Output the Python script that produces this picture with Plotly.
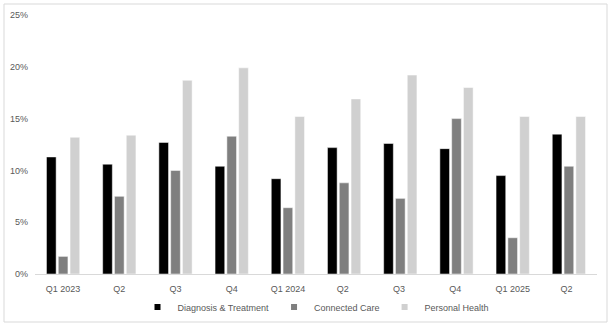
import plotly.graph_objects as go

categories = ["Q1 2023", "Q2", "Q3", "Q4", "Q1 2024", "Q2 ", "Q3 ", "Q4 ", "Q1 2025", "Q2  "]
diag_treat = [11.3, 10.6, 12.7, 10.4, 9.2, 12.2, 12.6, 12.1, 9.5, 13.5]
connected_care = [1.7, 7.5, 10.0, 13.3, 6.4, 8.8, 7.3, 15.0, 3.5, 10.4]
personal_health = [13.2, 13.4, 18.7, 19.9, 15.2, 16.9, 19.2, 18.0, 15.2, 15.2]

series = [
    ("Diagnosis & Treatment", diag_treat, "#000000"),
    ("Connected Care", connected_care, "#7f7f7f"),
    ("Personal Health", personal_health, "#d0d0d0"),
]

fig = go.Figure()
for name, vals, col in series:
    fig.add_trace(go.Bar(
        x=categories, y=vals, name=name, showlegend=False, legendgroup=name,
        marker=dict(color=col, line=dict(color="#ffffff", width=0.5)),
    ))
for name, vals, col in series:
    fig.add_trace(go.Scatter(
        x=[None], y=[None], name=name, mode="markers", legendgroup=name,
        marker=dict(symbol="square", size=6, color=col),
    ))

W, H = 612, 327
ml, mr, mt, mb = 35, 15, 15, 53
pw, ph = W - ml - mr, H - mt - mb

def px(x):
    return (x - ml) / pw

def py(y):
    return (H - mb - y) / ph

fig.update_layout(
    width=W, height=H,
    margin=dict(l=ml, r=mr, t=mt, b=mb, autoexpand=False),
    paper_bgcolor="white", plot_bgcolor="white",
    barmode="group", bargap=0.37, bargroupgap=0.18,
    font=dict(family="Liberation Sans, Arial, sans-serif", size=9, color="#595959"),
    showlegend=True,
    legend=dict(orientation="h", x=0.5, xanchor="center", y=py(307), yanchor="middle",
                font=dict(size=9, color="#595959"), itemwidth=30, traceorder="normal",
                tracegroupgap=0, bgcolor="rgba(0,0,0,0)"),
    xaxis=dict(showline=True, linecolor="#d9d9d9", linewidth=1, ticks="",
               showgrid=False, ticklabelstandoff=6, tickfont=dict(size=9, color="#595959")),
    yaxis=dict(range=[0, 25], dtick=5, ticksuffix="%", showgrid=False, zeroline=False,
               ticks="", ticklabelstandoff=6, tickfont=dict(size=9, color="#595959")),
    shapes=[dict(type="rect", xref="paper", yref="paper",
                 x0=px(4), x1=px(607), y0=py(322), y1=py(4),
                 line=dict(color="#d9d9d9", width=1), fillcolor="rgba(0,0,0,0)", layer="below")],
)

fig.write_html("out.html")
